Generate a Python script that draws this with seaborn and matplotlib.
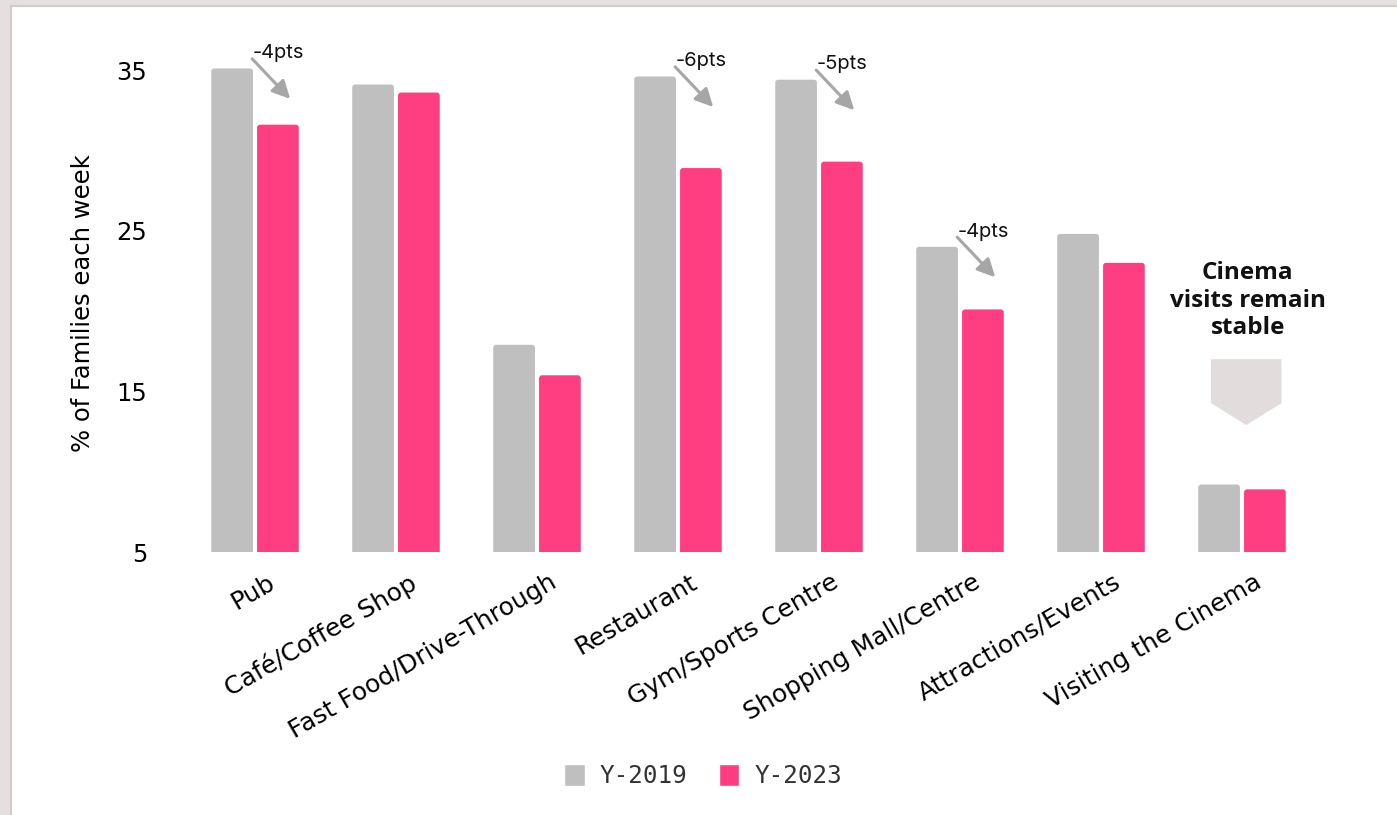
import numpy as np
import pandas as pd
import matplotlib
matplotlib.use("Agg")
import matplotlib.pyplot as plt
import matplotlib.transforms as mtransforms
from matplotlib.patches import FancyBboxPatch, Rectangle
import seaborn as sns

# ---- data -------------------------------------------------------------
categories = ["Pub", "Café/Coffee Shop", "Fast Food/Drive-Through", "Restaurant",
              "Gym/Sports Centre", "Shopping Mall/Centre", "Attractions/Events",
              "Visiting the Cinema"]
share_2019 = [35.1, 34.1, 17.9, 34.6, 34.4, 24.0, 24.8, 9.2]
share_2023 = [31.6, 33.6, 16.0, 28.9, 29.3, 20.1, 23.0, 8.9]
series = ["Y-2019", "Y-2023"]
y_ticks = [5, 15, 25, 35]
drop_callouts = ["Pub", "Restaurant", "Gym/Sports Centre", "Shopping Mall/Centre"]
cinema_note = "Cinema\nvisits remain\nstable"

palette = {"Y-2019": "#bfbfbf", "Y-2023": "#ff3d80"}

df = pd.DataFrame({
    "Activity": categories * 2,
    "Share": share_2019 + share_2023,
    "Year": [series[0]] * len(categories) + [series[1]] * len(categories),
})

# ---- figure -----------------------------------------------------------
sns.set_theme(style="white")
plt.rcParams["font.family"] = ["DejaVu Sans"]

W, H = 1397, 815
fig = plt.figure(figsize=(W / 100, H / 100), dpi=100, facecolor="#e6dfdf")
fig.patches.append(Rectangle((11 / W, -0.01), 1.0, 1.01 - 6 / H,
                             transform=fig.transFigure, facecolor="white",
                             edgecolor="#d5c9c9", lw=1.5, zorder=-1))

ax = fig.add_axes([184.5 / W, 263 / H, 1128 / W, 498 / H])
ax.set_facecolor("white")

sns.barplot(data=df, x="Activity", y="Share", hue="Year", palette=palette,
            width=0.65, gap=0.09, saturation=1, ax=ax, legend=True)

ax.set_xlim(-0.5, len(categories) - 0.5)
ax.set_ylim(5, 36)
sns.despine(ax=ax, left=True, bottom=True)

# rounded bar tops
bbox = ax.get_window_extent()
x_per_px = np.diff(ax.get_xlim())[0] / bbox.width
y_per_px = np.diff(ax.get_ylim())[0] / bbox.height
for bar in list(ax.patches):
    x, y = bar.get_x(), bar.get_y()
    w, h = bar.get_width(), bar.get_height()
    fc = bar.get_facecolor()
    bar.remove()
    ax.add_patch(FancyBboxPatch((x, y), w, h,
                                boxstyle=f"round,pad=0,rounding_size={3 * x_per_px}",
                                mutation_aspect=y_per_px / x_per_px,
                                facecolor=fc, edgecolor="none", zorder=2))

# axes, ticks, labels
ax.set_yticks(y_ticks)
ax.tick_params(axis="y", length=0, pad=27, labelsize=17.5, labelcolor="black")
ax.tick_params(axis="x", length=0, pad=13, labelsize=18, labelcolor="black")
ax.set_xlabel("")
ax.set_ylabel("% of Families each week", fontsize=17.5, color="black", labelpad=15)

shift = mtransforms.ScaledTranslation(0.12, 0, fig.dpi_scale_trans)
for lbl in ax.get_xticklabels():
    lbl.set_rotation(30)
    lbl.set_ha("right")
    lbl.set_rotation_mode("anchor")
    lbl.set_transform(lbl.get_transform() + shift)

# drop callouts with arrows
arrow_grey = "#a6a6a6"
for name in drop_callouts:
    i = categories.index(name)
    v19, v23 = share_2019[i], share_2023[i]
    drop = int(round(v19 - v23))
    start = (i - 0.02, v19 + 0.6)
    end = (i + 0.25, v19 - 1.9)
    ax.annotate("", xy=end, xytext=start,
                arrowprops=dict(arrowstyle="-|>", color=arrow_grey, lw=2.2,
                                mutation_scale=27, shrinkA=0, shrinkB=0))
    ax.text(start[0], start[1] + 0.35, f"-{drop}pts", ha="left", va="center",
            fontsize=14.5, family=["Inter", "DejaVu Sans"], color="#111111")

# cinema note with pentagon pointer
ci = categories.index("Visiting the Cinema")
ax.text(ci + 0.04, 20.65, cinema_note, ha="center", va="center",
        fontsize=17.5, fontweight="bold", family=["Open Sans", "DejaVu Sans"],
        color="#111111", linespacing=1.2)
ax.arrow(ci + 0.03, 17.0, 0, -4.1, width=0.5, head_width=0.5, head_length=1.37,
         length_includes_head=True, facecolor="#e3dcdc", edgecolor="none", zorder=1)

# legend
sns.move_legend(ax, "center", bbox_to_anchor=(703 / W, 1 - 776 / H),
                bbox_transform=fig.transFigure, ncol=2, frameon=False, title=None,
                fontsize=17.5, handlelength=0.85, handleheight=1.0,
                handletextpad=0.6, columnspacing=1.3)
for t in ax.get_legend().get_texts():
    t.set_family("DejaVu Sans Mono")
    t.set_color("#333333")

fig.savefig("out.png", dpi=100, facecolor=fig.get_facecolor())
